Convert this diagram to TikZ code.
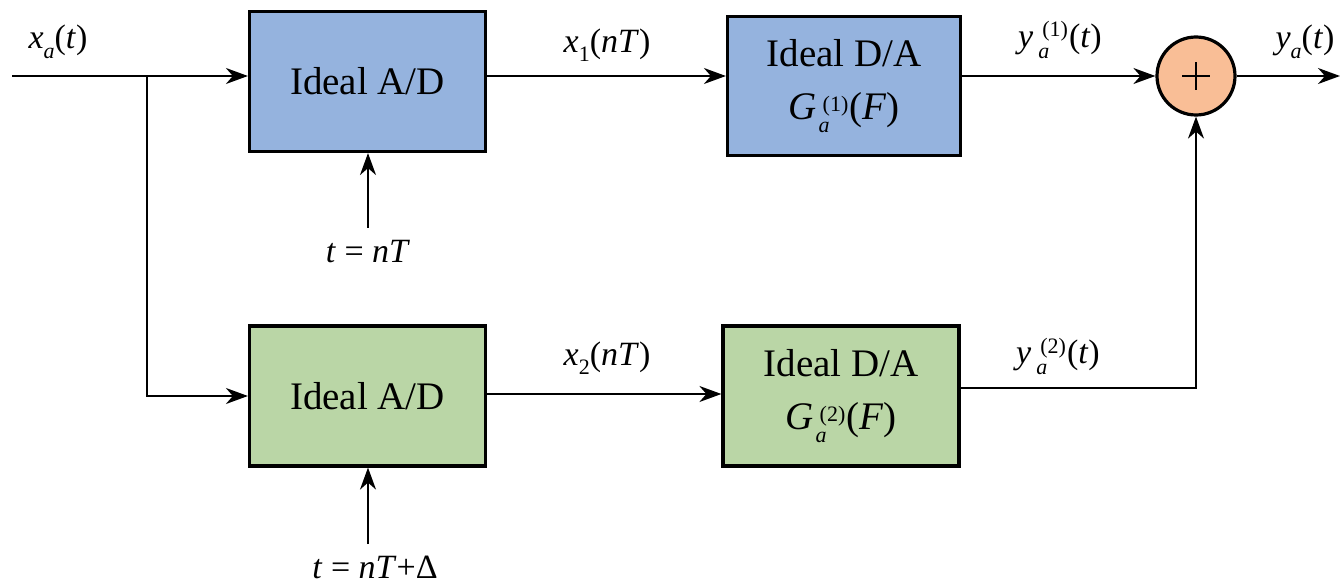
\documentclass[tikz,border=0pt]{standalone}
\usepackage{fontspec}
\setmainfont{Liberation Serif}[ItalicFont={Liberation Serif Italic},BoldFont={Liberation Serif Bold}]
\usetikzlibrary{arrows.meta}
\definecolor{boxblue}{HTML}{95B3DE}
\definecolor{boxgreen}{HTML}{BAD6A6}
\definecolor{sumorange}{HTML}{F9BE96}
\newcommand\lowsub[1]{\raisebox{-0.6ex}{\fontsize{11}{11}\selectfont #1}}
\newcommand\subsup[2]{\kern1pt\raisebox{-0.7ex}{\fontsize{11}{11}\selectfont\shortstack[l]{\kern2pt #2\\[0pt]\textit{#1}}}\kern0.5pt}
\tikzset{
  blk/.style={draw, line width=1.6pt, minimum width=118pt, minimum height=70pt,
    font=\fontsize{19.5}{25}\selectfont, align=center, inner sep=2pt},
  sumnode/.style={draw, circle, line width=1.6pt, minimum size=39pt, fill=sumorange, inner sep=0pt},
  lbl/.style={font=\fontsize{17}{20}\selectfont, inner sep=0pt},
  conn/.style={line width=1pt, -{Stealth[length=11pt,width=8pt,inset=3.5pt]}},
  wire/.style={line width=1pt},
}
\begin{document}
\begin{tikzpicture}[x=0.5pt,y=-0.5pt]
\useasboundingbox (0,0) rectangle (1340,583);
% blocks
\node[blk, fill=boxblue] (ad1) at (367.5,81.5) {Ideal A/D};
\node[blk, fill=boxblue, minimum width=116.5pt, minimum height=69.5pt] (da1) at (844,86)
  {Ideal D/A\\[1.5pt]\textit{G}\subsup{a}{(1)}(\textit{F})};
\node[blk, fill=boxgreen] (ad2) at (367.5,396) {Ideal A/D};
\node[blk, fill=boxgreen] (da2) at (841,396)
  {Ideal D/A\\[1.5pt]\textit{G}\subsup{a}{(2)}(\textit{F})};
\node[sumnode] (sum) at (1196,76) {};
\draw[line width=1pt] ([xshift=-7pt]sum.center) -- ([xshift=7pt]sum.center)
  ([yshift=-7pt]sum.center) -- ([yshift=7pt]sum.center);
% coordinates
\coordinate (in) at (12,76);
\coordinate (br) at (147,76);
\coordinate (out) at (1340,76);
\coordinate (y2c) at (1196,388);
\coordinate (s1) at (368,228);
\coordinate (s2) at (368,544);
% connectors
\draw[conn] (in) -- (ad1.west |- in);
\draw[conn] (br) |- (ad2.west);
\draw[conn] (ad1.east |- sum) -- (da1.west |- sum);
\draw[conn] (da1.east |- sum) -- (sum.west);
\draw[conn] (sum.east) -- (out);
\draw[conn] (ad2.east |- 0,394) -- (da2.west |- 0,394);
\draw[conn] (da2.east |- y2c) -- (y2c) -- (sum.south);
\draw[conn] (s1) -- (ad1.south -| s1);
\draw[conn] (s2) -- (ad2.south -| s2);
% labels
\node[lbl] (lxa) at (58,42) {\textit{x}\lowsub{\textit{a}}(\textit{t})};
\node[lbl] (lx1) at (607,45) {\textit{x}\lowsub{1}(\textit{nT})};
\node[lbl] (ly1) at (1060,40) {\textit{y}\kern1.5pt\subsup{a}{(1)}(\textit{t})};
\node[lbl] (lya) at (1305,42) {\textit{y}\lowsub{\textit{a}}(\textit{t})};
\node[lbl] (lx2) at (607,358) {\textit{x}\lowsub{2}(\textit{nT})};
\node[lbl] (ly2) at (1058,356) {\textit{y}\kern1.5pt\subsup{a}{(2)}(\textit{t})};
\node[lbl] (lt1) at (368,252) {\textit{t} = \textit{nT}};
\node[lbl] (lt2) at (375,567) {\textit{t} = \textit{nT}+Δ};
\end{tikzpicture}
\end{document}
